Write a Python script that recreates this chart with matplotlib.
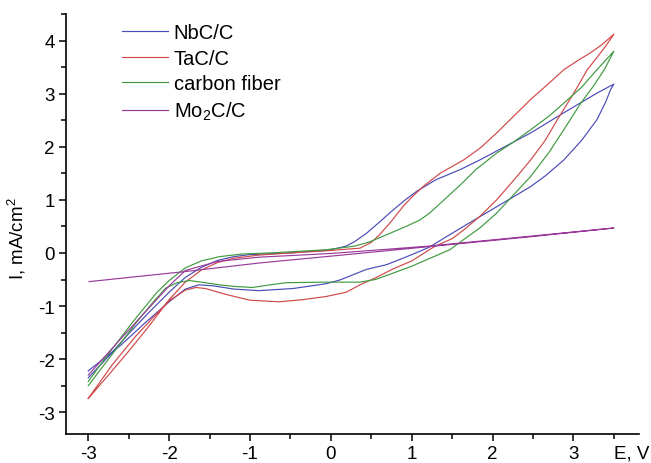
import matplotlib
matplotlib.use("Agg")
import matplotlib.pyplot as plt
import matplotlib.transforms as mtransforms

plt.rcParams['font.family'] = ['Liberation Sans', 'DejaVu Sans']

# ---- data (E in V, I in mA/cm^2); forward branch then reverse branch ----
nbc_E = [-3.00, -2.75, -2.50, -2.25, -2.00, -1.80, -1.60, -1.40, -1.20, -1.00, -0.50, 0.00, 0.19, 0.30,
         0.44, 0.60, 0.77, 0.92, 1.06, 1.30, 1.60, 1.84, 2.10, 2.47, 2.88, 3.29, 3.50,
         3.46, 3.40, 3.29, 3.10, 2.88, 2.65, 2.47, 2.25, 2.05, 1.85, 1.64, 1.40, 1.22, 1.05, 0.89,
         0.69, 0.44, 0.11, -0.06, -0.47, -0.89, -1.20, -1.45, -1.63, -1.80, -2.00, -2.30, -2.60, -3.00]
nbc_I = [-2.35, -1.95, -1.52, -1.12, -0.74, -0.46, -0.27, -0.14, -0.07, -0.03, 0.00, 0.06, 0.13, 0.22,
         0.37, 0.58, 0.81, 1.00, 1.16, 1.38, 1.57, 1.75, 1.96, 2.26, 2.64, 3.01, 3.18,
         3.08, 2.85, 2.51, 2.12, 1.75, 1.45, 1.25, 1.05, 0.87, 0.69, 0.50, 0.28, 0.11, 0.00, -0.10,
         -0.22, -0.31, -0.51, -0.58, -0.67, -0.71, -0.68, -0.62, -0.60, -0.68, -0.92, -1.32, -1.74, -2.22]

tac_E = [-3.00, -2.75, -2.50, -2.25, -2.00, -1.80, -1.60, -1.40, -1.20, -0.89, -0.50, -0.06, 0.36, 0.50,
         0.60, 0.75, 0.89, 1.00, 1.14, 1.35, 1.64, 1.85, 2.05, 2.25, 2.47, 2.70, 2.88, 3.05, 3.21, 3.35, 3.50,
         3.40, 3.30, 3.17, 3.00, 2.80, 2.65, 2.47, 2.25, 2.05, 1.85, 1.64, 1.50, 1.28, 1.00, 0.77,
         0.55, 0.36, 0.19, -0.06, -0.35, -0.64, -1.00, -1.30, -1.55, -1.67, -1.80, -2.00, -2.20,
         -2.42, -2.70, -3.00]
tac_I = [-2.74, -2.30, -1.85, -1.38, -0.88, -0.55, -0.32, -0.18, -0.10, -0.04, 0.00, 0.04, 0.09, 0.20,
         0.34, 0.60, 0.87, 1.05, 1.25, 1.50, 1.75, 1.98, 2.26, 2.56, 2.89, 3.20, 3.45, 3.62, 3.77, 3.92, 4.12,
         3.90, 3.70, 3.45, 3.00, 2.51, 2.12, 1.75, 1.35, 1.00, 0.70, 0.43, 0.27, 0.12, -0.15, -0.30,
         -0.47, -0.60, -0.74, -0.82, -0.88, -0.92, -0.89, -0.78, -0.67, -0.65, -0.70, -0.90, -1.22,
         -1.58, -2.10, -2.74]

cf_E = [-3.00, -2.80, -2.62, -2.45, -2.30, -2.15, -2.00, -1.80, -1.60, -1.38, -1.10, -0.76, -0.06, 0.30,
        0.48, 0.70, 0.93, 1.10, 1.22, 1.40, 1.60, 1.80, 2.05, 2.25, 2.47, 2.70, 2.88, 3.10, 3.29, 3.50,
        3.38, 3.25, 3.09, 2.88, 2.70, 2.47, 2.25, 2.05, 1.85, 1.64, 1.47, 1.18, 1.00, 0.77, 0.55,
        0.36, -0.10, -0.55, -0.75, -0.97, -1.20, -1.38, -1.60, -1.75, -1.90, -2.04, -2.20, -2.40,
        -2.60, -2.80, -3.00]
cf_I = [-2.42, -2.00, -1.64, -1.30, -1.02, -0.74, -0.52, -0.28, -0.15, -0.07, -0.02, 0.00, 0.06, 0.13,
        0.21, 0.35, 0.50, 0.62, 0.75, 1.00, 1.28, 1.58, 1.88, 2.08, 2.32, 2.58, 2.82, 3.12, 3.45, 3.80,
        3.45, 3.15, 2.82, 2.32, 1.90, 1.44, 1.08, 0.75, 0.48, 0.25, 0.06, -0.13, -0.25, -0.38, -0.50,
        -0.55, -0.55, -0.56, -0.60, -0.65, -0.63, -0.60, -0.55, -0.52, -0.56, -0.66, -0.93, -1.30,
        -1.70, -2.10, -2.50]

mo_E = [-2.99, -1.80, -0.89, 0.00, 1.22, 2.50, 3.50,
        1.22, 0.00, -0.89, -1.40, -1.80, -2.00, -2.30, -2.60, -3.00]
mo_I = [-0.54, -0.35, -0.19, -0.06, 0.12, 0.31, 0.47,
        0.13, -0.01, -0.08, -0.16, -0.33, -0.62, -1.12, -1.62, -2.30]

labels = ['NbC/C', 'TaC/C', 'carbon fiber', 'Mo$_\\mathregular{2}$C/C']
colors = ['#4a4ab8', '#d04848', '#3f9a3f', '#9a3a9a']

x_ticks = [-3, -2, -1, 0, 1, 2, 3]
y_ticks = [-3, -2, -1, 0, 1, 2, 3, 4]

fig = plt.figure(figsize=(6.51, 4.64), dpi=100)
ax = fig.add_axes([66/651, 1 - 434.5/464, (639-66)/651, (434.5-15)/464])

series = [(nbc_E, nbc_I), (tac_E, tac_I), (cf_E, cf_I), (mo_E, mo_I)]
for (e, i), lab, c in zip(series, labels, colors):
    ax.plot(e, i, color=c, lw=0.85, label=lab)

ax.set_xlim(-3.275, 3.81)
ax.set_ylim(-3.40, 4.5)
ax.set_xticks(x_ticks)
ax.set_yticks(y_ticks)
ax.set_xticks([-2.5, -1.5, -0.5, 0.5, 1.5, 2.5, 3.5], minor=True)
ax.set_yticks([-2.5, -1.5, -0.5, 0.5, 1.5, 2.5, 3.5, 4.5], minor=True)
ax.set_xticklabels([str(v) for v in x_ticks])
ax.set_yticklabels([str(v) for v in y_ticks])

for s in ['top', 'right']:
    ax.spines[s].set_visible(False)
for s in ['left', 'bottom']:
    ax.spines[s].set_linewidth(1.2)
ax.tick_params(which='major', direction='out', length=5, width=1.1, labelsize=13.5, pad=3)
ax.tick_params(which='minor', direction='out', length=3.5, width=1.1)

ax.set_ylabel('I, mA/cm$^\\mathregular{2}$', fontsize=13.5)
ax.yaxis.set_label_coords(-0.066, 0.467)

trans = mtransforms.blended_transform_factory(ax.transData, ax.transAxes)
ax.annotate('E, V', xy=(3.72, 0), xycoords=trans, xytext=(0, -8), textcoords='offset points',
            ha='center', va='top', fontsize=13.5, annotation_clip=False)

leg = ax.legend(loc='upper left', bbox_to_anchor=(122/651, 1 - 24/464), bbox_transform=fig.transFigure,
                frameon=False, fontsize=14.5, handlelength=2.27, handletextpad=0.3,
                labelspacing=0.33, borderpad=0, borderaxespad=0)

fig.savefig('out.png', dpi=100)
